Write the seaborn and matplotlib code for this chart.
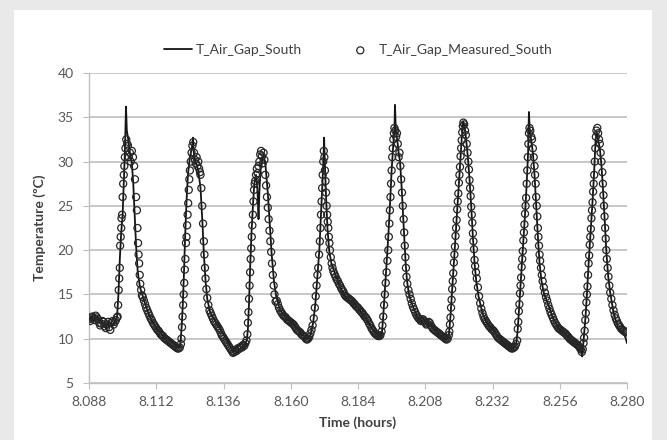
import matplotlib
matplotlib.use('Agg')
import matplotlib.pyplot as plt
import seaborn as sns
from matplotlib.patches import Rectangle

# simulated air gap temperature (line), time in hours
sim_time = [8.0880, 8.0890, 8.0900, 8.0910, 8.0920, 8.0930, 8.0940, 8.0950, 8.0960, 8.0970, 8.0980,
            8.0985, 8.0990, 8.0995, 8.1000, 8.1004, 8.1008, 8.1012, 8.1015, 8.1020, 8.1026, 8.1033,
            8.1038, 8.1043, 8.1048, 8.1054, 8.1062,
            8.1073, 8.1090, 8.1105, 8.1123, 8.1145, 8.1169, 8.1185, 8.1198, 8.1206,
            8.1211, 8.1215, 8.1219, 8.1223, 8.1228, 8.1233, 8.1240, 8.1247, 8.1251, 8.1254, 8.1260,
            8.1270, 8.1278, 8.1285, 8.1290, 8.1296, 8.1302,
            8.1312, 8.1330, 8.1348, 8.1365, 8.1380, 8.1394, 8.1405, 8.1420, 8.1435, 8.1443,
            8.1447, 8.1451, 8.1455, 8.1460, 8.1465, 8.1470, 8.1476, 8.1481, 8.1485, 8.1488, 8.1492,
            8.1497, 8.1503, 8.1510, 8.1518, 8.1525, 8.1532, 8.1540, 8.1548,
            8.1562, 8.1585, 8.1608, 8.1630, 8.1644, 8.1662, 8.1670,
            8.1680, 8.1688, 8.1695, 8.1702, 8.1708, 8.1713, 8.1717, 8.1719, 8.1722, 8.1726, 8.1731,
            8.1737, 8.1745,
            8.1760, 8.1780, 8.1800, 8.1822, 8.1845, 8.1872, 8.1895, 8.1910, 8.1920,
            8.1925, 8.1930, 8.1936, 8.1942, 8.1948, 8.1954, 8.1960, 8.1966, 8.1970, 8.1972, 8.1975,
            8.1980, 8.1985, 8.1990, 8.1995, 8.2000, 8.2005, 8.2010, 8.2015, 8.2022,
            8.2035, 8.2051, 8.2065, 8.2075, 8.2085, 8.2095, 8.2110, 8.2130, 8.2158, 8.2164,
            8.2170, 8.2176, 8.2182, 8.2190, 8.2198, 8.2205, 8.2210, 8.2215, 8.2220, 8.2226, 8.2232,
            8.2238, 8.2244, 8.2250, 8.2256, 8.2262, 8.2270,
            8.2285, 8.2300, 8.2322, 8.2345, 8.2370, 8.2393, 8.2405,
            8.2410, 8.2415, 8.2420, 8.2428, 8.2436, 8.2442, 8.2447, 8.2450, 8.2453, 8.2458, 8.2464,
            8.2470, 8.2476, 8.2482, 8.2488, 8.2495, 8.2503,
            8.2515, 8.2535, 8.2555, 8.2575, 8.2600, 8.2620, 8.2632, 8.2637, 8.2640, 8.2643,
            8.2647, 8.2652, 8.2657, 8.2663, 8.2670, 8.2677, 8.2683, 8.2688, 8.2692, 8.2697, 8.2703,
            8.2709, 8.2715, 8.2721, 8.2727, 8.2733, 8.2740, 8.2750, 8.2760, 8.2770, 8.2780, 8.2790,
            8.2796, 8.2800]
sim_temp = [12.0, 12.4, 12.2, 12.5, 12.1, 11.6, 11.2, 11.9, 11.5, 11.8, 12.4,
            15.0, 19.0, 22.0, 24.0, 27.5, 31.0, 36.2, 33.5, 32.5, 31.0, 29.8,
            27.5, 24.0, 20.5, 17.5, 15.8,
            14.7, 13.0, 12.0, 11.1, 10.3, 9.8, 9.4, 9.0, 9.3,
            11.5, 14.0, 17.5, 21.5, 25.5, 28.5, 30.5, 31.5, 32.7, 31.0, 30.0,
            29.0, 27.0, 23.0, 19.5, 16.5, 14.5,
            13.0, 12.0, 11.1, 10.2, 9.4, 8.6, 8.5, 8.9, 9.2, 9.8,
            11.0, 14.0, 18.0, 22.0, 25.0, 27.5, 28.5, 27.0, 23.5, 26.5, 29.0,
            30.3, 30.8, 29.5, 26.5, 23.0, 19.5, 16.5, 14.8,
            13.2, 12.3, 11.7, 10.9, 10.4, 10.0, 10.4,
            11.8, 14.0, 17.0, 20.0, 24.0, 27.5, 30.5, 32.7, 29.5, 26.0, 22.5,
            20.0, 18.5,
            17.2, 15.6, 14.5, 14.1, 13.3, 12.1, 10.9, 10.4, 10.2,
            10.5, 12.5, 15.5, 18.5, 21.5, 25.0, 29.0, 32.0, 33.5, 36.4, 33.5,
            32.5, 31.0, 30.0, 27.5, 24.5, 21.5, 18.5, 16.5, 15.0,
            13.7, 12.5, 12.0, 12.1, 11.6, 11.8, 11.1, 10.5, 9.9, 10.3,
            12.5, 15.5, 18.5, 22.5, 26.5, 30.0, 32.5, 34.5, 34.0, 32.5, 30.5,
            28.0, 25.0, 21.5, 18.5, 16.5, 14.8,
            12.8, 11.8, 11.0, 10.0, 9.3, 8.9, 9.5,
            11.0, 13.5, 16.0, 20.0, 24.0, 27.5, 31.0, 35.6, 33.5, 32.5, 31.0,
            28.5, 25.0, 21.5, 18.5, 16.5, 15.2,
            14.2, 12.4, 11.2, 10.7, 9.9, 9.4, 9.0, 8.6, 8.0, 9.0,
            10.5, 12.5, 15.0, 18.5, 22.0, 25.5, 29.0, 32.5, 33.3, 32.5, 31.5,
            29.5, 26.5, 23.0, 19.5, 17.0, 15.2, 13.3, 12.0, 11.2, 10.8, 10.5,
            10.0, 9.5]

# measured air gap temperature (circles)
meas_time = [
    8.0880, 8.0884, 8.0888, 8.0892, 8.0896, 8.0900, 8.0904, 8.0908, 8.0912, 8.0916, 8.0920, 8.0924, 8.0928,
    8.0932, 8.0936, 8.0940, 8.0944, 8.0948, 8.0952, 8.0956, 8.0960, 8.0964, 8.0968, 8.0972, 8.0976, 8.0980,
    8.0982, 8.0984, 8.0986, 8.0988, 8.0990, 8.0991, 8.0993, 8.0995, 8.0996, 8.0998, 8.1000, 8.1002, 8.1004,
    8.1006, 8.1008, 8.1010, 8.1013, 8.1016, 8.1019, 8.1022, 8.1026, 8.1029, 8.1033, 8.1037, 8.1041, 8.1044,
    8.1048, 8.1051, 8.1053, 8.1055, 8.1057, 8.1059, 8.1061, 8.1063, 8.1066, 8.1069,
    8.1072, 8.1076, 8.1080, 8.1084, 8.1088, 8.1092, 8.1096, 8.1100, 8.1104, 8.1108, 8.1112, 8.1116, 8.1120,
    8.1124, 8.1128, 8.1132, 8.1136, 8.1140, 8.1144, 8.1148, 8.1152, 8.1156, 8.1160, 8.1164, 8.1168, 8.1172,
    8.1176, 8.1180, 8.1184, 8.1188, 8.1192, 8.1196, 8.1200, 8.1204, 8.1208,
    8.1210, 8.1212, 8.1214, 8.1216, 8.1218, 8.1220, 8.1222, 8.1224, 8.1226, 8.1228, 8.1230, 8.1232, 8.1234,
    8.1236, 8.1238, 8.1240, 8.1243, 8.1246, 8.1249, 8.1252, 8.1255, 8.1258, 8.1261, 8.1264, 8.1267, 8.1270,
    8.1273, 8.1276, 8.1278, 8.1281, 8.1284, 8.1287, 8.1290, 8.1292, 8.1294, 8.1296, 8.1299, 8.1302, 8.1306,
    8.1310, 8.1314, 8.1318, 8.1322, 8.1326, 8.1330, 8.1334, 8.1338, 8.1342, 8.1346, 8.1350, 8.1354, 8.1358,
    8.1362, 8.1366, 8.1370, 8.1374, 8.1378, 8.1382, 8.1386, 8.1390, 8.1394, 8.1398, 8.1402, 8.1406, 8.1410,
    8.1414, 8.1418, 8.1422, 8.1426, 8.1430, 8.1434, 8.1438, 8.1442, 8.1445,
    8.1447, 8.1449, 8.1451, 8.1453, 8.1455, 8.1457, 8.1459, 8.1461, 8.1463, 8.1465, 8.1467, 8.1469, 8.1471,
    8.1473, 8.1476, 8.1479, 8.1482, 8.1485, 8.1488, 8.1491, 8.1494, 8.1497, 8.1500, 8.1503, 8.1506, 8.1509,
    8.1512, 8.1515, 8.1518, 8.1521, 8.1524, 8.1527, 8.1530, 8.1533, 8.1536, 8.1539, 8.1542, 8.1546,
    8.1550, 8.1554, 8.1558, 8.1562, 8.1566, 8.1570, 8.1574, 8.1578, 8.1582, 8.1586, 8.1590, 8.1594, 8.1598,
    8.1602, 8.1606, 8.1610, 8.1614, 8.1618, 8.1622, 8.1626, 8.1630, 8.1634, 8.1638, 8.1642, 8.1646, 8.1650,
    8.1654, 8.1658, 8.1662,
    8.1666, 8.1670, 8.1674, 8.1678, 8.1682, 8.1686, 8.1689, 8.1692, 8.1695, 8.1698, 8.1701, 8.1704, 8.1706,
    8.1708, 8.1710, 8.1712, 8.1714, 8.1716, 8.1718, 8.1720, 8.1722, 8.1724, 8.1726, 8.1728, 8.1730, 8.1732,
    8.1734, 8.1736, 8.1738, 8.1740, 8.1743, 8.1746, 8.1749,
    8.1752, 8.1756, 8.1760, 8.1764, 8.1768, 8.1772, 8.1776, 8.1780, 8.1784, 8.1788, 8.1792, 8.1796, 8.1800,
    8.1804, 8.1808, 8.1812, 8.1816, 8.1820, 8.1824, 8.1828, 8.1832, 8.1836, 8.1840, 8.1844, 8.1848, 8.1852,
    8.1856, 8.1860, 8.1864, 8.1868, 8.1872, 8.1876, 8.1880, 8.1884, 8.1888, 8.1892, 8.1896, 8.1900, 8.1904,
    8.1908, 8.1912, 8.1916, 8.1920,
    8.1924, 8.1927, 8.1930, 8.1933, 8.1936, 8.1939, 8.1942, 8.1945, 8.1948, 8.1950, 8.1952, 8.1954, 8.1956,
    8.1958, 8.1960, 8.1962, 8.1964, 8.1966, 8.1968, 8.1970, 8.1973, 8.1976, 8.1979, 8.1982, 8.1985, 8.1988,
    8.1991, 8.1994, 8.1997, 8.2000, 8.2003, 8.2005, 8.2007, 8.2009, 8.2011, 8.2013, 8.2016,
    8.2020, 8.2024, 8.2028, 8.2032, 8.2036, 8.2040, 8.2044, 8.2048, 8.2052, 8.2056, 8.2060, 8.2064, 8.2068,
    8.2072, 8.2076, 8.2080, 8.2084, 8.2088, 8.2092, 8.2096, 8.2100, 8.2104, 8.2108, 8.2112, 8.2116, 8.2120,
    8.2124, 8.2128, 8.2132, 8.2136, 8.2140, 8.2144, 8.2148, 8.2152, 8.2156, 8.2160, 8.2164,
    8.2166, 8.2168, 8.2170, 8.2172, 8.2174, 8.2176, 8.2178, 8.2180, 8.2182, 8.2184, 8.2186, 8.2188, 8.2190,
    8.2192, 8.2194, 8.2196, 8.2198, 8.2200, 8.2202, 8.2204, 8.2206, 8.2208, 8.2210, 8.2212, 8.2214, 8.2216,
    8.2219, 8.2222, 8.2225, 8.2228, 8.2231, 8.2234, 8.2236, 8.2238, 8.2240, 8.2242, 8.2244, 8.2246, 8.2248,
    8.2250, 8.2252, 8.2254, 8.2256, 8.2258, 8.2261, 8.2264,
    8.2268, 8.2272, 8.2276, 8.2280, 8.2284, 8.2288, 8.2292, 8.2296, 8.2300, 8.2304, 8.2308, 8.2312, 8.2316,
    8.2320, 8.2324, 8.2328, 8.2332, 8.2336, 8.2340, 8.2344, 8.2348, 8.2352, 8.2356, 8.2360, 8.2364, 8.2368,
    8.2372, 8.2376, 8.2380, 8.2384, 8.2388, 8.2392, 8.2396, 8.2400, 8.2404, 8.2408,
    8.2410, 8.2412, 8.2414, 8.2416, 8.2418, 8.2420, 8.2422, 8.2424, 8.2426, 8.2428, 8.2430, 8.2432, 8.2434,
    8.2436, 8.2438, 8.2440, 8.2442, 8.2444, 8.2446, 8.2448, 8.2450, 8.2452, 8.2455, 8.2458, 8.2461, 8.2464,
    8.2467, 8.2470, 8.2472, 8.2474, 8.2476, 8.2478, 8.2480, 8.2482, 8.2484, 8.2486, 8.2488, 8.2490, 8.2493,
    8.2496, 8.2499,
    8.2503, 8.2507, 8.2511, 8.2515, 8.2519, 8.2523, 8.2527, 8.2531, 8.2535, 8.2539, 8.2543, 8.2547, 8.2551,
    8.2555, 8.2559, 8.2563, 8.2567, 8.2571, 8.2575, 8.2579, 8.2583, 8.2587, 8.2591, 8.2595, 8.2599, 8.2603,
    8.2607, 8.2611, 8.2615, 8.2619, 8.2623, 8.2627, 8.2631, 8.2635, 8.2639, 8.2642, 8.2645,
    8.2647, 8.2649, 8.2651, 8.2653, 8.2655, 8.2657, 8.2659, 8.2661, 8.2663, 8.2665, 8.2667, 8.2669, 8.2671,
    8.2673, 8.2675, 8.2677, 8.2679, 8.2681, 8.2683, 8.2685, 8.2687, 8.2689, 8.2691, 8.2694, 8.2697, 8.2700,
    8.2703, 8.2706, 8.2709, 8.2712, 8.2714, 8.2716, 8.2718, 8.2720, 8.2722, 8.2724, 8.2726, 8.2728, 8.2731,
    8.2734, 8.2737, 8.2740, 8.2744, 8.2748, 8.2752, 8.2756, 8.2760, 8.2764, 8.2768, 8.2772, 8.2776, 8.2780,
    8.2784, 8.2788, 8.2792, 8.2796, 8.2800]
meas_temp = [
    12.2, 12.0, 12.4, 12.5, 12.3, 12.1, 12.6, 12.4, 12.2, 11.8, 11.5, 11.7, 12.0,
    11.9, 11.4, 11.2, 11.6, 11.9, 11.3, 11.0, 11.8, 12.0, 11.6, 11.9, 12.1, 12.4,
    12.5, 13.8, 15.5, 16.8, 18.0, 20.5, 21.5, 22.5, 23.6, 24.0, 26.0, 27.5, 28.5,
    29.5, 30.5, 31.5, 32.5, 32.0, 31.8, 30.5, 31.0, 30.0, 31.2, 30.5, 29.5, 28.0,
    26.0, 24.5, 22.5, 20.8, 19.5, 18.5, 17.2, 16.2, 15.5, 14.9,
    14.7, 14.3, 13.9, 13.5, 13.2, 12.9, 12.6, 12.3, 12.1, 11.8, 11.6, 11.4, 11.2,
    11.0, 10.9, 10.7, 10.5, 10.4, 10.3, 10.1, 10.0, 9.9, 9.8, 9.7, 9.6, 9.5,
    9.4, 9.3, 9.2, 9.1, 9.0, 8.9, 8.9, 9.0, 9.4,
    10.0, 11.3, 12.5, 13.8, 15.0, 16.3, 17.8, 19.0, 20.8, 21.5, 22.8, 24.0, 25.3,
    26.8, 28.0, 29.0, 30.0, 31.0, 31.8, 32.2, 31.0, 30.2, 29.8, 30.5, 29.5, 30.0,
    29.2, 28.8, 28.5, 27.0, 25.0, 23.0, 21.0, 19.5, 18.0, 16.8, 15.6, 14.6, 13.8,
    13.2, 12.9, 12.6, 12.3, 12.0, 11.8, 11.6, 11.4, 11.2, 11.0, 10.7, 10.4, 10.2,
    10.0, 9.8, 9.6, 9.4, 9.2, 9.0, 8.8, 8.6, 8.4, 8.5, 8.7, 8.6, 8.9,
    8.8, 9.0, 9.1, 9.0, 9.3, 9.2, 9.5, 9.8, 10.5,
    11.8, 13.0, 14.5, 16.0, 17.5, 19.0, 20.2, 21.5, 22.8, 24.0, 25.5, 26.8, 27.5,
    27.8, 28.5, 29.2, 28.7, 29.5, 30.0, 30.8, 31.2, 30.6, 29.8, 31.0, 30.2, 28.5,
    27.3, 26.0, 24.8, 23.5, 22.2, 21.0, 19.8, 18.5, 17.2, 16.0, 15.0, 14.2,
    14.3, 13.9, 13.5, 13.2, 13.0, 12.8, 12.6, 12.5, 12.4, 12.2, 12.1, 12.0, 11.9,
    11.8, 11.7, 11.6, 11.4, 11.2, 11.0, 10.9, 10.8, 10.7, 10.5, 10.4, 10.3, 10.2,
    10.0, 9.9, 10.0,
    10.2, 10.6, 11.0, 11.5, 12.3, 13.5, 14.8, 16.0, 17.2, 18.0, 19.5, 21.0, 22.5,
    24.0, 25.5, 27.0, 28.5, 30.0, 31.2, 30.5, 29.0, 27.8, 26.5, 25.0, 24.0, 23.2,
    22.5, 21.5, 20.8, 20.0, 19.2, 18.5, 18.0,
    17.6, 17.3, 17.0, 16.7, 16.5, 16.2, 16.0, 15.7, 15.5, 15.3, 15.0, 14.8, 14.7,
    14.6, 14.5, 14.4, 14.3, 14.2, 14.0, 13.9, 13.7, 13.6, 13.5, 13.3, 13.2, 13.0,
    12.9, 12.7, 12.5, 12.4, 12.2, 12.0, 11.7, 11.5, 11.2, 11.0, 10.8, 10.6, 10.5,
    10.4, 10.3, 10.3, 10.4,
    10.8, 11.5, 12.5, 13.8, 15.0, 16.3, 17.5, 18.8, 20.0, 21.5, 23.0, 24.5, 26.0,
    27.5, 29.0, 30.5, 31.5, 32.5, 33.2, 33.8, 33.5, 32.8, 33.2, 32.0, 30.5, 31.0,
    29.5, 28.0, 26.5, 25.0, 23.5, 22.0, 20.5, 19.2, 18.0, 17.0, 16.2,
    15.5, 15.0, 14.5, 14.0, 13.6, 13.3, 13.0, 12.7, 12.5, 12.3, 12.2, 12.0, 12.1,
    12.2, 12.0, 11.8, 11.6, 11.7, 11.9, 11.8, 11.5, 11.3, 11.1, 11.0, 10.9, 10.8,
    10.7, 10.6, 10.5, 10.4, 10.3, 10.2, 10.1, 10.0, 9.9, 10.0, 10.4,
    10.8, 11.6, 12.4, 13.5, 14.4, 15.6, 16.5, 17.4, 18.6, 19.5, 20.4, 21.6, 22.5,
    23.4, 24.6, 25.5, 26.4, 27.6, 28.5, 29.4, 30.6, 31.5, 32.4, 33.3, 34.0, 34.4,
    34.2, 33.5, 33.0, 32.0, 31.0, 30.0, 29.1, 27.9, 27.0, 26.1, 24.9, 24.0, 23.1,
    21.9, 21.0, 20.1, 18.9, 18.2, 17.5, 16.8,
    15.8, 14.8, 14.0, 13.4, 12.9, 12.5, 12.2, 12.0, 11.8, 11.6, 11.4, 11.3, 11.1,
    11.0, 10.9, 10.7, 10.5, 10.3, 10.1, 10.0, 9.9, 9.8, 9.7, 9.6, 9.5, 9.4,
    9.3, 9.2, 9.1, 9.0, 8.9, 8.9, 9.0, 9.1, 9.4, 9.8,
    11.1, 11.9, 13.1, 13.9, 15.1, 16.0, 16.9, 18.1, 19.0, 19.9, 21.1, 22.0, 22.9,
    24.1, 25.0, 25.9, 27.5, 29.0, 30.5, 32.0, 33.2, 33.8, 33.5, 32.8, 32.5, 31.5,
    30.5, 29.5, 28.5, 27.5, 26.0, 25.0, 23.8, 22.5, 21.5, 20.5, 19.5, 18.8, 18.0,
    17.2, 16.5,
    15.8, 15.2, 14.7, 14.3, 13.8, 13.4, 13.0, 12.7, 12.4, 12.1, 11.8, 11.6, 11.4,
    11.2, 11.1, 11.0, 10.9, 10.8, 10.7, 10.6, 10.5, 10.3, 10.2, 10.0, 9.9, 9.8,
    9.7, 9.6, 9.5, 9.4, 9.3, 9.2, 9.0, 8.8, 8.5, 8.8, 9.5,
    10.1, 10.9, 12.1, 12.9, 14.1, 15.0, 15.9, 17.2, 18.5, 19.4, 20.6, 21.5, 22.4,
    23.6, 24.5, 25.4, 26.6, 27.5, 28.5, 30.0, 31.5, 32.8, 33.5, 33.8, 33.2, 32.5,
    32.0, 31.0, 30.0, 28.8, 27.5, 26.2, 25.0, 23.8, 22.5, 21.3, 20.0, 19.0, 18.0,
    17.0, 16.0, 15.2, 14.5, 13.8, 13.2, 12.7, 12.3, 12.0, 11.7, 11.5, 11.3, 11.1,
    11.0, 10.9, 10.8, 10.7, 10.8]

x_ticks = [8.088, 8.112, 8.136, 8.160, 8.184, 8.208, 8.232, 8.256, 8.280]
y_ticks = [5, 10, 15, 20, 25, 30, 35, 40]

sns.set_style('white')
plt.rcParams['font.family'] = ['Lato', 'DejaVu Sans']

fig = plt.figure(figsize=(6.67, 4.4), dpi=100, facecolor='#e9e9e9')
# white chart panel on the grey page, kept behind the axes
fig.patches.append(Rectangle((14 / 667, 0), 638 / 667, 430 / 440, transform=fig.transFigure,
                             facecolor='white', edgecolor='none', zorder=-5))
ax = fig.add_axes([89 / 667, 57 / 440, 538 / 667, 310 / 440])
ax.set_zorder(1)
ax.set_facecolor('white')

sns.lineplot(x=sim_time, y=sim_temp, ax=ax, color='#141414', lw=1.3, sort=False,
             estimator=None, label='T_Air_Gap_South', zorder=3)
sns.scatterplot(x=meas_time, y=meas_temp, ax=ax, marker='o', s=26, facecolor='none',
                edgecolor='#262626', linewidth=0.9, label='T_Air_Gap_Measured_South', zorder=4)

ax.set_xlim(8.088, 8.280)
ax.set_ylim(5, 40)
ax.set_xticks(x_ticks)
ax.set_xticklabels([f'{t:.3f}' for t in x_ticks])
ax.set_yticks(y_ticks)

ax.yaxis.grid(True, color='#bfbfbf', lw=1.2)
ax.xaxis.grid(False)
for side in ['top', 'right']:
    ax.spines[side].set_visible(False)
for side in ['left', 'bottom']:
    ax.spines[side].set_color('#bfbfbf')
    ax.spines[side].set_linewidth(1.0)

ax.tick_params(axis='both', bottom=True, left=True, direction='out', length=4,
               color='#bfbfbf', labelsize=10, labelcolor='#595959')
ax.tick_params(axis='x', pad=5)
ax.tick_params(axis='y', pad=7)

ax.set_xlabel('Time (hours)', fontsize=10, fontweight='bold', color='#404040', labelpad=6)
ax.set_ylabel('Temperature (ºC)', fontsize=10, fontweight='bold', color='#404040', labelpad=8)

ax.legend(loc='center', bbox_to_anchor=(358 / 667, 1 - 50 / 440), bbox_transform=fig.transFigure,
          ncol=2, frameon=False, fontsize=10, handlelength=2.0, columnspacing=3.2,
          handletextpad=0.3, labelcolor='#404040')

fig.savefig('out.png', dpi=100, facecolor=fig.get_facecolor())
